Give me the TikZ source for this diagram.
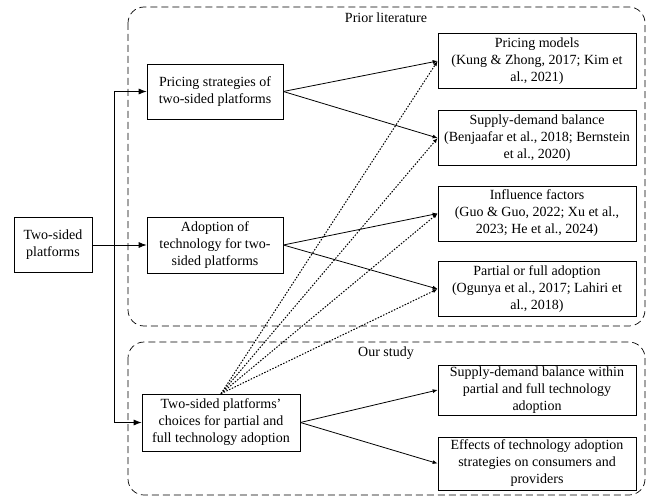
\documentclass[tikz,border=0pt]{standalone}
\usepackage{fontspec}
\setmainfont{Liberation Serif}
\usetikzlibrary{positioning, arrows.meta}

\tikzset{
  block/.style={draw, line width=0.7pt, align=center, inner sep=1pt,
    font=\fontsize{14}{17}\selectfont},
  litbox/.style={block, minimum width=198pt, minimum height=55pt},
  frame/.style={draw, line width=0.7pt, dash pattern=on 7pt off 4pt, rounded corners=16pt},
  title/.style={font=\fontsize{14}{17}\selectfont},
  link/.style={line width=0.8pt, -{Latex[length=8pt,width=6pt]}},
  cite/.style={line width=0.8pt, -{Latex[length=5pt,width=4pt]}},
  dotlink/.style={line width=1pt, dash pattern=on 1.5pt off 1.5pt, -{Latex[length=5pt,width=4pt]}}
}

\begin{document}
\begin{tikzpicture}[x=1pt, y=-1pt]
\useasboundingbox (0,0) rectangle (652,497);

% frames
\draw[frame] (128,7) rectangle (645,326);
\node[title] (prior) at (386,18) {Prior literature};
\draw[frame] (128,342) rectangle (645,495);
\node[title] (ours) at (386,353) {Our study};

% left column
\node[block, minimum width=78pt, minimum height=55pt] (tsp) at (53,245) {Two-sided\\platforms};
\node[block, minimum width=136pt, minimum height=55pt] (pricing) at (215,91.5) {Pricing strategies of\\two-sided platforms};
\node[block, minimum width=136pt, minimum height=56pt] (adoption) at (215,245) {Adoption of\\technology for two-\\sided platforms};
\node[block, minimum width=158pt, minimum height=57pt] (choices) at (221,422.5) {Two-sided platforms'\\choices for partial and\\full technology adoption};

% right column
\node[litbox] (pm) at (537,61) {Pricing models\\(Kung \& Zhong, 2017; Kim et\\al., 2021)};
\node[litbox] (sdb) at (537,138) {Supply-demand balance\\(Benjaafar et al., 2018; Bernstein\\et al., 2020)};
\node[litbox] (inf) at (537,213.5) {Influence factors\\(Guo \& Guo, 2022; Xu et al.,\\2023; He et al., 2024)};
\node[litbox] (pfa) at (537,289) {Partial or full adoption\\(Ogunya et al., 2017; Lahiri et\\al., 2018)};
\node[litbox, minimum height=50pt] (sdw) at (537,390) {Supply-demand balance within\\partial and full technology\\adoption};
\node[litbox, minimum height=53pt] (eff) at (537,463.5) {Effects of technology adoption\\strategies on consumers and\\providers};

% connectors
\coordinate (split) at (114,245);
\draw[line width=0.8pt] (tsp.east) -- (split);
\draw[link] (split) |- (pricing.west);
\draw[link] (split) -- (adoption.west);
\draw[link] (split) |- (choices.west);

\draw[cite] (pricing.east) -- (pm.west);
\draw[cite] (pricing.east) -- (sdb.west);
\draw[cite] (adoption.east) -- (inf.west);
\draw[cite] (adoption.east) -- (pfa.west);
\draw[cite] (choices.east) -- (sdw.west);
\draw[cite] (choices.east) -- (eff.west);

\foreach \t in {pm, sdb, inf, pfa}
  \draw[dotlink] (choices.north) -- (\t.west);
\end{tikzpicture}
\end{document}
